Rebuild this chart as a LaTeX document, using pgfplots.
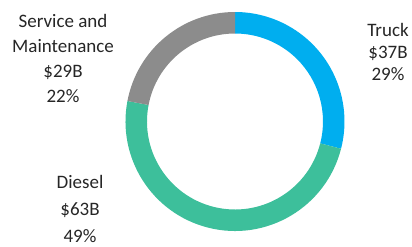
\documentclass[border=0pt]{standalone}
\usepackage{pgfplots}
\pgfplotsset{compat=1.18}
\usepackage{pgfplotstable}
\usepackage{fontspec}
\setmainfont{Carlito}
\definecolor{cTruck}{HTML}{00AEEF}
\definecolor{cDiesel}{HTML}{3DBF9B}
\definecolor{cServ}{HTML}{8C8C8C}
\definecolor{cText}{HTML}{262626}
\pgfplotstableread{
label share
Truck 29
Diesel 49
Service 22
}\sharetable
\begin{document}
\begin{tikzpicture}
\begin{axis}[
  x=1bp, y=1bp,
  xmin=-235, xmax=177, ymin=-125.5, ymax=121.5,
  hide axis, clip=false,
]
\def\Ro{109.5}
\def\Ri{88}
\pgfplotstablegetelem{0}{share}\of\sharetable \let\sA\pgfplotsretval
\pgfplotstablegetelem{1}{share}\of\sharetable \let\sB\pgfplotsretval
\pgfplotstablegetelem{2}{share}\of\sharetable \let\sC\pgfplotsretval
\pgfmathsetmacro{\aA}{90}
\pgfmathsetmacro{\aB}{90-3.6*\sA}
\pgfmathsetmacro{\aC}{\aB-3.6*\sB}
\pgfmathsetmacro{\aD}{\aC-3.6*\sC}
\fill[cTruck] (axis cs:0,0) ++(\aA:\Ro bp) arc[start angle=\aA, end angle=\aB, radius=\Ro bp] -- ++(\aB:-\Ro bp+\Ri bp) arc[start angle=\aB, end angle=\aA, radius=\Ri bp] -- cycle;
\fill[cDiesel] (axis cs:0,0) ++(\aB:\Ro bp) arc[start angle=\aB, end angle=\aC, radius=\Ro bp] -- ++(\aC:-\Ro bp+\Ri bp) arc[start angle=\aC, end angle=\aB, radius=\Ri bp] -- cycle;
\fill[cServ] (axis cs:0,0) ++(\aC:\Ro bp) arc[start angle=\aC, end angle=\aD, radius=\Ro bp] -- ++(\aD:-\Ro bp+\Ri bp) arc[start angle=\aD, end angle=\aC, radius=\Ri bp] -- cycle;
\path (axis cs:-235,-125.5) rectangle (axis cs:177,121.5);
\node[align=center, text=cText, font=\fontsize{19bp}{25bp}\selectfont] at (axis cs:-172,63.5) {Service and\\Maintenance\\\$29B\\22\%};
\node[align=center, text=cText, font=\fontsize{19bp}{22bp}\selectfont] at (axis cs:153,69.5) {Truck\\\$37B\\29\%};
\node[align=center, text=cText, font=\fontsize{19bp}{27bp}\selectfont] at (axis cs:-155,-87.5) {Diesel\\\$63B\\49\%};
\end{axis}
\end{tikzpicture}
\end{document}
